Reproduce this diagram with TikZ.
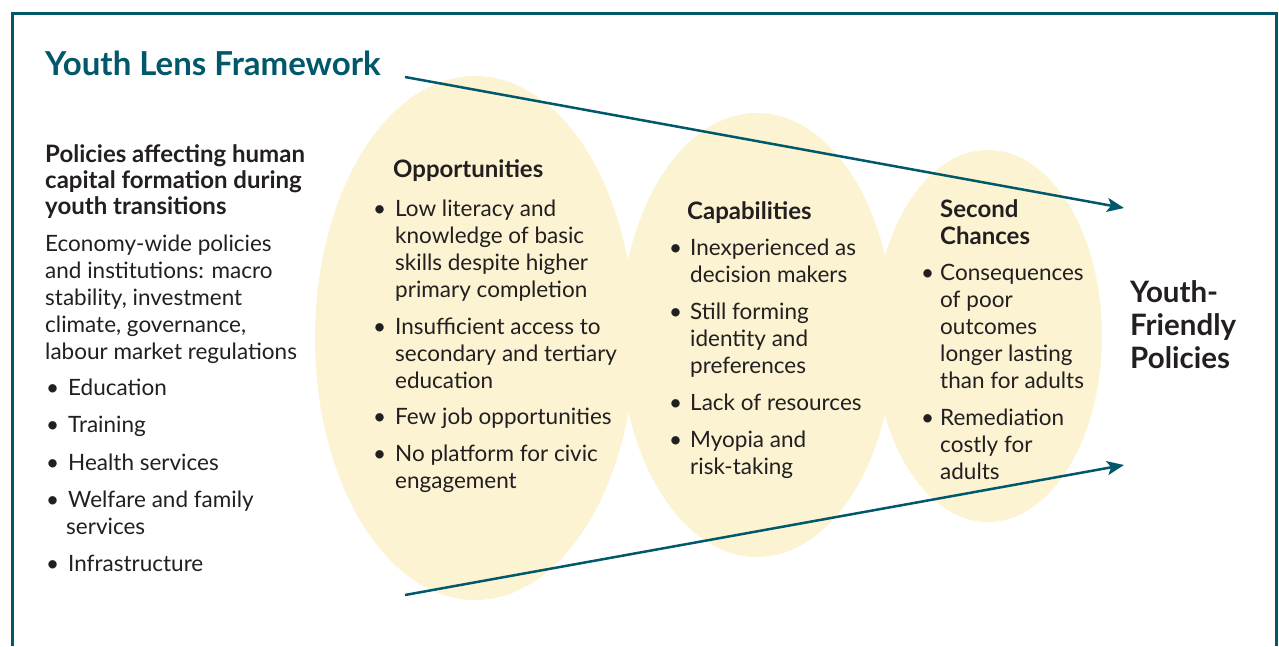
\documentclass[tikz,border=0pt]{standalone}
\usepackage{fontspec}
\setmainfont{Lato}
\usetikzlibrary{arrows.meta}
\definecolor{yl_teal}{RGB}{0, 88, 106}
\definecolor{yl_cream}{RGB}{251, 243, 210}
\definecolor{yl_ink}{RGB}{35, 31, 32}
\tikzstyle{frame}=[draw=yl_teal,line width=3pt]
\tikzstyle{lens}=[fill=yl_cream]
\tikzstyle{ray}=[draw=yl_teal,line width=2.5pt,
  -{Stealth[length=17pt,width=14pt,inset=4pt]}]
\tikzstyle{title}=[anchor=base west,inner sep=0pt,text=yl_teal,
  font=\fontsize{33}{38}\selectfont\bfseries]
\tikzstyle{block}=[anchor=north west,inner sep=0pt,align=left,text=yl_ink,
  font=\fontsize{22.5}{27}\selectfont]
\tikzstyle{goal}=[anchor=north west,inner sep=0pt,align=left,text=yl_ink,
  font=\fontsize{29.5}{33}\selectfont\bfseries]
\newcommand{\bul}[1][23pt]{\makebox[#1][l]{\hspace{1pt}\textbullet}}
\newcommand{\hd}[1]{{\fontsize{24}{27}\selectfont\bfseries #1}}

\begin{document}
\begin{tikzpicture}[x=1pt,y=-1pt]
        \useasboundingbox (0,0) rectangle (1279,646);
        \draw [style=frame] (12,646) -- (12,13) -- (1276,13) -- (1276,646);
        % the three lenses
        \fill [style=lens] (475,338) ellipse [x radius=160pt,y radius=262pt];
        \fill [style=lens] (757,335) ellipse [x radius=137pt,y radius=222pt];
        \fill [style=lens] (988,336) ellipse [x radius=114pt,y radius=186pt];
        \coordinate (ts) at (405,77);
        \coordinate (te) at (1124,208);
        \coordinate (bs) at (405,595);
        \coordinate (be) at (1124,465);
        \draw [style=ray] (ts) to (te);
        \draw [style=ray] (bs) to (be);
        \node [style=title] (title) at (45,75) {Youth Lens Framework};
        \node [style=block] (pol) at (45,144) {%
          \hd{Policies affecting human}\\[-0.7pt]
          \hd{capital formation during}\\[-0.7pt]
          \hd{youth transitions}\\[9.5pt]
          Economy-wide policies\\
          and institutions: macro\\
          stability, investment\\
          climate, governance,\\
          labour market regulations\\[9pt]
          \bul Education\\[10.5pt]
          \bul Training\\[10.5pt]
          \bul Health services\\[10.5pt]
          \bul Welfare and family\\
          \hspace*{21pt}services\\[10pt]
          \bul Infrastructure};
        \node [style=block] (opp) at (372,159.5) {%
          \hspace*{21pt}\hd{Opportunities}\\[12pt]
          \bul Low literacy and\\
          \hspace*{23pt}knowledge of basic\\
          \hspace*{23pt}skills despite higher\\
          \hspace*{23pt}primary completion\\[9.5pt]
          \bul Insufficient access to\\
          \hspace*{23pt}secondary and tertiary\\
          \hspace*{23pt}education\\[9.5pt]
          \bul Few job opportunities\\[9.5pt]
          \bul No platform for civic\\
          \hspace*{23pt}engagement};
        \node [style=block] (cap) at (668,201.5) {%
          \hspace*{19pt}\hd{Capabilities}\\[9pt]
          \bul[22pt]Inexperienced as\\
          \hspace*{22pt}decision makers\\[10pt]
          \bul[22pt]Still forming\\
          \hspace*{22pt}identity and\\
          \hspace*{22pt}preferences\\[10pt]
          \bul[22pt]Lack of resources\\[10pt]
          \bul[22pt]Myopia and\\
          \hspace*{22pt}risk-taking};
        \node [style=block] (sec) at (920,199.5) {%
          \hspace*{20pt}\hd{Second}\\
          \hspace*{20pt}\hd{Chances}\\[9pt]
          \bul[20pt]Consequences\\
          \hspace*{20pt}of poor\\
          \hspace*{20pt}outcomes\\
          \hspace*{20pt}longer lasting\\
          \hspace*{20pt}than for adults\\[10pt]
          \bul[20pt]Remediation\\
          \hspace*{20pt}costly for\\
          \hspace*{20pt}adults};
        \node [style=goal] (yfp) at (1130,280) {Youth-\\Friendly\\Policies};
    \end{tikzpicture}
\end{document}
